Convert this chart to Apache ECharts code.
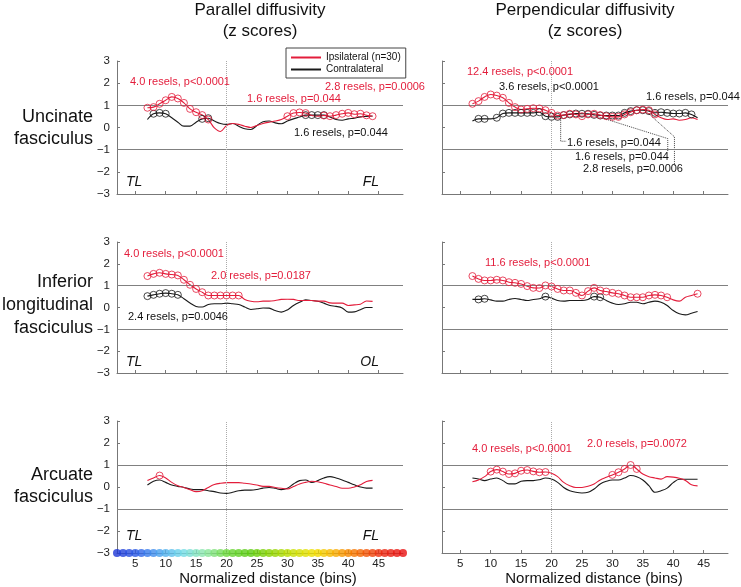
<!DOCTYPE html>
<html><head><meta charset="utf-8">
<script src="https://cdn.jsdelivr.net/npm/echarts@6/dist/echarts.min.js"></script>
<style>html,body{margin:0;padding:0;background:#fff}#c{width:741px;height:587px}</style>
</head><body><div id="c"></div>
<script>
// ---- data ----
const bins = [7,8,9,10,11,12,13,14,15,16,17,18,19,20,21,22,23,24,25,26,27,28,29,30,31,32,33,34,35,36,37,38,39,40,41,42,43,44];
const xTicks = [5,10,15,20,25,30,35,40,45];
const colorBins = [2,3,4,5,6,7,8,9,10,11,12,13,14,15,16,17,18,19,20,21,22,23,24,25,26,27,28,29,30,31,32,33,34,35,36,37,38,39,40,41,42,43,44,45,46,47,48,49];

// Uncinate, parallel
const uncParIpsi = [0.89,0.92,1.07,1.23,1.38,1.31,1.11,0.84,0.69,0.56,0.36,-0.02,-0.18,0.09,0.18,0.14,0.06,0.0,0.09,0.18,0.24,0.29,0.36,0.51,0.65,0.68,0.65,0.54,0.51,0.54,0.51,0.56,0.62,0.66,0.6,0.62,0.55,0.51];
const uncParContra = [0.36,0.62,0.66,0.62,0.44,0.24,0.06,0.06,0.24,0.39,0.42,0.29,0.18,0.14,0.18,0.06,-0.06,-0.09,0.09,0.26,0.29,0.21,0.17,0.29,0.39,0.47,0.56,0.56,0.56,0.56,0.47,0.36,0.33,0.39,0.42,0.48,0.5,0.52];
const uncParIpsiSig = [7,8,9,10,11,12,13,14,15,16,17,30,31,32,33,36,37,38,39,40,41,42,43,44];
const uncParContraSig = [8,9,10,16,17,33,34,35,36];
// Uncinate, perpendicular
const uncPerIpsi = [1.07,1.19,1.38,1.49,1.44,1.34,1.11,0.92,0.81,0.84,0.87,0.86,0.78,0.66,0.54,0.56,0.62,0.59,0.51,0.59,0.62,0.56,0.51,0.48,0.48,0.59,0.69,0.78,0.81,0.78,0.59,0.44,0.36,0.39,0.33,0.36,0.44,0.36];
const uncPerContra = [0.29,0.39,0.39,0.39,0.44,0.63,0.66,0.66,0.66,0.66,0.66,0.69,0.51,0.48,0.48,0.56,0.59,0.63,0.62,0.62,0.57,0.54,0.54,0.54,0.54,0.66,0.74,0.78,0.78,0.74,0.66,0.69,0.66,0.63,0.63,0.66,0.59,0.44];
const uncPerIpsiSig = [7,8,9,10,11,12,13,14,15,16,17,18,19,20,21,22,23,24,25,26,27,28,29,30,31,32,33,34,35,36,37];
const uncPerContraSig = [8,9,11,12,13,14,15,16,17,18,19,20,21,22,23,24,25,26,27,28,29,30,31,32,33,34,35,36,37,38,39,40,41,42,43];
// ILF, parallel
const ilfParIpsi = [1.44,1.54,1.59,1.54,1.51,1.47,1.27,1.04,0.85,0.70,0.55,0.55,0.55,0.55,0.55,0.55,0.37,0.29,0.26,0.29,0.29,0.32,0.37,0.38,0.37,0.32,0.32,0.32,0.29,0.29,0.21,0.2,0.2,0.09,0.12,0.15,0.3,0.28];
const ilfParContra = [0.52,0.58,0.63,0.66,0.63,0.58,0.40,0.21,0.05,0.02,0.14,0.17,0.17,0.20,0.17,0.14,0.02,-0.09,-0.06,-0.02,-0.03,-0.14,-0.21,-0.11,0.09,0.24,0.35,0.32,0.29,0.20,0.09,0.05,-0.02,-0.21,-0.2,-0.1,0.0,0.0];
const ilfParIpsiSig = [7,8,9,10,11,12,13,14,15,16,17,18,19,20,21,22];
const ilfParContraSig = [7,8,9,10,11,12];
// ILF, perpendicular
const ilfPerIpsi = [1.44,1.31,1.24,1.24,1.27,1.24,1.16,1.13,1.08,0.98,0.90,0.89,1.01,0.96,0.85,0.78,0.78,0.67,0.55,0.75,0.90,0.78,0.73,0.67,0.63,0.55,0.47,0.47,0.47,0.55,0.58,0.55,0.47,0.35,0.29,0.47,0.55,0.63];
const ilfPerContra = [0.37,0.37,0.40,0.35,0.29,0.29,0.37,0.41,0.37,0.32,0.37,0.40,0.50,0.43,0.32,0.29,0.32,0.32,0.32,0.37,0.50,0.47,0.32,0.20,0.14,0.17,0.24,0.24,0.17,0.24,0.29,0.24,0.09,-0.14,-0.29,-0.34,-0.26,-0.18];
const ilfPerIpsiSig = [7,8,9,10,11,12,13,14,15,16,17,18,19,20,21,22,23,24,25,26,27,28,29,30,31,32,33,34,35,36,37,38,39,44];
const ilfPerContraSig = [8,9,19,27,28];
// Arcuate, parallel
const arcParIpsi = [0.29,0.41,0.52,0.41,0.21,0.06,-0.02,-0.12,-0.21,-0.17,-0.02,0.11,0.17,0.20,0.20,0.20,0.17,0.14,0.09,0.03,0.03,-0.02,-0.06,-0.09,0.02,0.14,0.21,0.26,0.24,0.17,0.09,0.02,-0.06,-0.06,0.0,0.1,0.25,0.3];
const arcParContra = [0.09,0.26,0.32,0.21,0.09,0.03,-0.02,-0.09,-0.12,-0.12,-0.17,-0.21,-0.27,-0.29,-0.24,-0.17,-0.14,-0.14,-0.11,-0.05,-0.02,-0.06,-0.12,-0.06,0.14,0.29,0.32,0.21,0.29,0.41,0.47,0.41,0.32,0.21,0.1,0.0,-0.05,-0.05];
const arcParIpsiSig = [9];
const arcParContraSig = [];
// Arcuate, perpendicular
const arcPerIpsi = [0.24,0.32,0.47,0.70,0.79,0.70,0.59,0.62,0.74,0.77,0.71,0.67,0.68,0.62,0.47,0.21,0.06,-0.02,-0.02,0.03,0.14,0.32,0.44,0.55,0.67,0.82,1.0,0.82,0.59,0.47,0.41,0.36,0.47,0.45,0.4,0.3,0.1,0.05];
const arcPerContra = [0.41,0.36,0.29,0.36,0.41,0.29,0.14,0.14,0.26,0.29,0.29,0.33,0.41,0.36,0.21,-0.02,-0.17,-0.24,-0.27,-0.24,-0.09,0.14,0.26,0.32,0.32,0.41,0.52,0.47,0.32,0.06,-0.24,-0.17,-0.05,0.2,0.35,0.35,0.35,0.35];
const arcPerIpsiSig = [10,11,12,13,14,15,16,17,18,19,30,31,32,33,34];
const arcPerContraSig = [];

// leader lines (panel: uncinate perpendicular), data coordinates
const leader1 = [[21.5,0.51],[21.5,-0.62],[22.4,-0.62]];
const leader2 = [[27.4,0.51],[39.1,-0.5],[39.1,-1.1]];
const leader3 = [[35.8,0.66],[40.2,-0.42],[40.2,-1.71]];

// ---- styling ----
const RED = '#e31d3b';
const BLK = '#1a1a1a';
const AX = '#777';
const FONT = '"Liberation Sans", Arial, Helvetica, sans-serif';

const panels = [
  {ipsi: uncParIpsi, contra: uncParContra, ipsiSig: uncParIpsiSig, contraSig: uncParContraSig},
  {ipsi: uncPerIpsi, contra: uncPerContra, ipsiSig: uncPerIpsiSig, contraSig: uncPerContraSig},
  {ipsi: ilfParIpsi, contra: ilfParContra, ipsiSig: ilfParIpsiSig, contraSig: ilfParContraSig},
  {ipsi: ilfPerIpsi, contra: ilfPerContra, ipsiSig: ilfPerIpsiSig, contraSig: ilfPerContraSig},
  {ipsi: arcParIpsi, contra: arcParContra, ipsiSig: arcParIpsiSig, contraSig: arcParContraSig},
  {ipsi: arcPerIpsi, contra: arcPerContra, ipsiSig: arcPerIpsiSig, contraSig: arcPerContraSig}
];

const grids = [
  {left:117, top:61, width:286, height:133},
  {left:442, top:61, width:286, height:133},
  {left:117, top:242, width:286, height:131},
  {left:442, top:242, width:286, height:131},
  {left:117, top:421, width:286, height:132},
  {left:442, top:421, width:286, height:132}
];

const xAxes = grids.map((g,i)=>({
  gridIndex:i, type:'value', min:2, max:49,
  axisLine:{show:true, onZero:false, lineStyle:{color:AX, width:1}},
  axisTick:{show:true, inside:true, length:3, customValues:xTicks, lineStyle:{color:AX}},
  axisLabel:{show:i>=4, customValues:xTicks, fontSize:11.5, color:'#222', margin:5, fontFamily:FONT},
  splitLine:{show:false}
}));
const yAxes = grids.map((g,i)=>({
  gridIndex:i, type:'value', min:-3, max:3, interval:1,
  axisLine:{show:true, onZero:false, lineStyle:{color:AX, width:1}},
  axisTick:{show:true, inside:true, length:3, lineStyle:{color:AX}},
  axisLabel:{show:i%2===0, fontSize:11.5, color:'#222', margin:7, fontFamily:FONT,
    formatter:v=> v<0 ? '\u2212'+(-v) : String(v)},
  splitLine:{show:false}
}));

const pair = (arr)=> bins.map((b,k)=>[b, arr[k]]);
const sigPts = (sig, arr)=> sig.map(b=>[b, arr[bins.indexOf(b)]]);

const series = [];
panels.forEach((p,i)=>{
  series.push({
    name:'Contralateral', type:'line', xAxisIndex:i, yAxisIndex:i, data:pair(p.contra),
    smooth:0.35, showSymbol:false, color:BLK, lineStyle:{color:BLK, width:1.1}, z:2, animation:false,
    markLine:{silent:true, symbol:['none','none'], label:{show:false}, animation:false,
      data:[
        {yAxis:1, lineStyle:{color:'#808080', type:'solid', width:1}},
        {yAxis:-1, lineStyle:{color:'#808080', type:'solid', width:1}},
        {xAxis:20, lineStyle:{color:'#aaa', type:'dotted', width:1}}
      ]}
  });
  series.push({
    name:'Ipsilateral (n=30)', type:'line', xAxisIndex:i, yAxisIndex:i, data:pair(p.ipsi),
    smooth:0.35, showSymbol:false, color:RED, lineStyle:{color:RED, width:1.1}, z:3, animation:false
  });
  if (p.contraSig.length) series.push({
    type:'scatter', xAxisIndex:i, yAxisIndex:i, data:sigPts(p.contraSig, p.contra),
    symbol:'circle', symbolSize:7, itemStyle:{color:'rgba(255,255,255,0)', borderColor:BLK, borderWidth:1}, z:4, animation:false
  });
  if (p.ipsiSig.length) series.push({
    type:'scatter', xAxisIndex:i, yAxisIndex:i, data:sigPts(p.ipsiSig, p.ipsi),
    symbol:'circle', symbolSize:7, itemStyle:{color:'rgba(255,255,255,0)', borderColor:RED, borderWidth:1}, z:5, animation:false
  });
});
[leader1, leader2, leader3].forEach(d=>{
  series.push({type:'line', xAxisIndex:1, yAxisIndex:1, data:d, showSymbol:false, smooth:false,
    lineStyle:{color:'#444', type:'dotted', width:1}, z:1, animation:false, silent:true});
});
const cbIndex = series.length;
series.push({
  type:'scatter', xAxisIndex:4, yAxisIndex:4, data:colorBins.map(b=>[b,-3]),
  symbol:'circle', symbolSize:8, clip:false, z:6, animation:false, silent:true
});

// ---- text ----
const texts = [];
function T(text, x, y, opt){
  opt = opt||{};
  texts.push({type:'text', x:x, y:y, silent:true, z:100, style:{
    text:text, fill:opt.color||'#111', fontSize:opt.size||11, fontFamily:FONT,
    fontStyle:opt.italic?'italic':'normal',
    align:opt.align||'left', textAlign:opt.align||'left',
    verticalAlign:'middle', textVerticalAlign:'middle'
  }});
}
// column titles
T('Parallel diffusivity', 260, 10, {size:17, align:'center'});
T('(z scores)', 260, 31, {size:17, align:'center'});
T('Perpendicular diffusivity', 585, 10, {size:17, align:'center'});
T('(z scores)', 585, 31, {size:17, align:'center'});
// row labels
T('Uncinate', 93, 117, {size:18, align:'right'});
T('fasciculus', 93, 139, {size:18, align:'right'});
T('Inferior', 93, 282, {size:18, align:'right'});
T('longitudinal', 93, 305, {size:18, align:'right'});
T('fasciculus', 93, 328, {size:18, align:'right'});
T('Arcuate', 93, 475, {size:18, align:'right'});
T('fasciculus', 93, 497, {size:18, align:'right'});
// axis names
T('Normalized distance (bins)', 268, 579, {size:15, align:'center'});
T('Normalized distance (bins)', 594, 579, {size:15, align:'center'});
// end labels
T('TL', 126, 182, {size:14, italic:true});
T('FL', 379, 182, {size:14, italic:true, align:'right'});
T('TL', 126, 362, {size:14, italic:true});
T('OL', 379, 362, {size:14, italic:true, align:'right'});
T('TL', 126, 536, {size:14, italic:true});
T('FL', 379, 536, {size:14, italic:true, align:'right'});
// annotations
T('4.0 resels, p<0.0001', 130, 82, {color:RED});
T('1.6 resels, p=0.044', 247, 99, {color:RED});
T('2.8 resels, p=0.0006', 325, 87, {color:RED});
T('1.6 resels, p=0.044', 294, 133);
T('12.4 resels, p<0.0001', 467, 72, {color:RED});
T('3.6 resels, p<0.0001', 499, 87);
T('1.6 resels, p=0.044', 646, 97);
T('1.6 resels, p=0.044', 567, 143);
T('1.6 resels, p=0.044', 575, 157);
T('2.8 resels, p=0.0006', 583, 169);
T('4.0 resels, p<0.0001', 124, 254, {color:RED});
T('2.0 resels, p=0.0187', 211, 276, {color:RED});
T('2.4 resels, p=0.0046', 128, 317);
T('11.6 resels, p<0.0001', 485, 263, {color:RED});
T('4.0 resels, p<0.0001', 472, 449, {color:RED});
T('2.0 resels, p=0.0072', 587, 444, {color:RED});

const chart = echarts.init(document.getElementById('c'), null, {renderer:'canvas'});
chart.setOption({
  backgroundColor:'#fff',
  animation:false,
  textStyle:{fontFamily:FONT},
  grid:grids,
  xAxis:xAxes,
  yAxis:yAxes,
  legend:{
    data:['Ipsilateral (n=30)','Contralateral'], orient:'vertical', left:286, top:48,
    icon:'rect', itemWidth:30, itemHeight:2, itemGap:1, selectedMode:false,
    padding:[4,5,3,5], borderColor:'#444', borderWidth:1, backgroundColor:'#fff',
    textStyle:{fontSize:10, color:'#111', fontFamily:FONT, lineHeight:11}
  },
  visualMap:{type:'continuous', show:false, seriesIndex:cbIndex, dimension:0, min:2, max:49,
    inRange:{color:['#1d36d6','#2c5ee8','#4aa6f0','#72dbe8','#8fe8a8','#6bd83a','#58cc10','#8cd400','#c8e000','#f2e000','#f8a800','#f56a00','#ec2a10','#e81010']}},
  series:series,
  graphic:texts
});
</script></body></html>
